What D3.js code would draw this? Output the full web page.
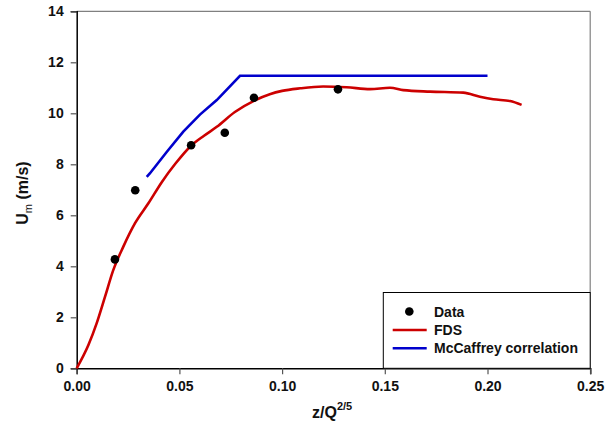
<!DOCTYPE html>
<html><head><meta charset="utf-8">
<script src="https://cdn.jsdelivr.net/npm/d3@7"></script>
<style>body{margin:0;background:#fff}svg{display:block;font-family:"Liberation Sans",Arial,sans-serif}</style>
</head><body>
<svg id="c" width="614" height="442"></svg>
<script>
const xTicks = [0, 0.05, 0.10, 0.15, 0.20, 0.25];
const yTicks = [0, 2, 4, 6, 8, 10, 12, 14];
const dataX = [0.0186, 0.0285, 0.0557, 0.0721, 0.0863, 0.1272];
const dataY = [4.27, 6.98, 8.75, 9.24, 10.61, 10.94];
const fdsX = [0, 0.0057, 0.0097, 0.0138, 0.0178, 0.0227, 0.0284, 0.0349, 0.0414, 0.0480, 0.0557, 0.0620, 0.0682, 0.0770, 0.0865, 0.0940, 0.1000, 0.1088, 0.1200, 0.1314, 0.1428, 0.1525, 0.1590, 0.1720, 0.1882, 0.1963, 0.2028, 0.2110, 0.2166];
const fdsY = [0, 0.91, 1.76, 2.81, 3.85, 4.77, 5.69, 6.47, 7.30, 8.02, 8.73, 9.12, 9.47, 10.05, 10.50, 10.75, 10.88, 10.98, 11.05, 11.02, 10.95, 11.00, 10.91, 10.85, 10.81, 10.65, 10.55, 10.48, 10.33];
const mcX = [0.0341, 0.0357, 0.0440, 0.0519, 0.0600, 0.0682, 0.0795, 0.2000];
const mcY = [7.51, 7.65, 8.50, 9.28, 9.95, 10.52, 11.47, 11.47];
const legendLabels = ["Data", "FDS", "McCaffrey correlation"];

const svg = d3.select("#c");
const L = 76.7, R = 590.2, T = 11.3, B = 368.3;
const x = d3.scaleLinear().domain([0, 0.25]).range([L, R]);
const y = d3.scaleLinear().domain([0, 14]).range([B, T]);

// frame top/right
svg.append("line").attr("x1", L).attr("x2", R).attr("y1", T).attr("y2", T).attr("stroke", "#808080").attr("stroke-width", 1.2);
svg.append("line").attr("x1", R).attr("x2", R).attr("y1", T).attr("y2", B).attr("stroke", "#808080").attr("stroke-width", 1.2);

const xAxis = svg.append("g").attr("transform", `translate(0,${B})`)
  .call(d3.axisBottom(x).tickValues(xTicks).tickFormat(d3.format(".2f")).tickSizeOuter(0).tickSize(6).tickPadding(7));
const yAxis = svg.append("g").attr("transform", `translate(${L},0)`)
  .call(d3.axisLeft(y).tickValues(yTicks).tickFormat(d3.format("d")).tickSizeOuter(0).tickSize(6).tickPadding(7));
[xAxis, yAxis].forEach(g => {
  g.select(".domain").attr("stroke", "#000").attr("stroke-width", 1.5);
  g.selectAll(".tick line").attr("stroke", "#555").attr("stroke-width", 1.2);
  g.selectAll("text").attr("font-size", 14).attr("font-weight", "bold").attr("fill", "#111")
    .attr("font-family", "Liberation Sans, Arial, sans-serif");
});

const line = d3.line().x(d => x(d[0])).y(d => y(d[1])).curve(d3.curveMonotoneX);
svg.append("path").datum(fdsX.map((v, i) => [v, fdsY[i]])).attr("d", line)
  .attr("fill", "none").attr("stroke", "#cc0000").attr("stroke-width", 2.6);
svg.append("path").datum(mcX.map((v, i) => [v, mcY[i]])).attr("d", d3.line().x(d => x(d[0])).y(d => y(d[1])))
  .attr("fill", "none").attr("stroke", "#0000cc").attr("stroke-width", 2.6);
svg.append("g").selectAll("circle").data(dataX.map((v, i) => [v, dataY[i]])).join("circle")
  .attr("cx", d => x(d[0])).attr("cy", d => y(d[1])).attr("r", 4.3).attr("fill", "#000");

// axis labels
const xl = svg.append("text").attr("x", 312).attr("y", 418).attr("font-size", 16).attr("font-weight", "bold").attr("fill", "#111");
xl.append("tspan").text("z/Q");
xl.append("tspan").attr("dy", -8).attr("font-size", 11).text("2/5");
const yl = svg.append("text").attr("transform", "translate(28,193) rotate(-90)").attr("text-anchor", "middle")
  .attr("font-size", 16).attr("font-weight", "bold").attr("fill", "#111");
yl.append("tspan").text("U");
yl.append("tspan").attr("dy", 4).attr("font-size", 11).attr("font-weight", "normal").text("m");
yl.append("tspan").attr("dy", -4).text(" (m/s)");

// legend
const lg = svg.append("g");
lg.append("rect").attr("x", 383.3).attr("y", 292.5).attr("width", R - 383.3).attr("height", B - 292.5)
  .attr("fill", "#fff").attr("stroke", "#000").attr("stroke-width", 1);
const ly = [311.5, 330, 348.3];
lg.append("circle").attr("cx", 409.3).attr("cy", ly[0]).attr("r", 4.3).attr("fill", "#000");
lg.append("line").attr("x1", 392.7).attr("x2", 426.7).attr("y1", ly[1]).attr("y2", ly[1]).attr("stroke", "#cc0000").attr("stroke-width", 2.6);
lg.append("line").attr("x1", 392.7).attr("x2", 426.7).attr("y1", ly[2]).attr("y2", ly[2]).attr("stroke", "#0000cc").attr("stroke-width", 2.6);
lg.selectAll("text.leg").data(legendLabels).join("text").attr("class", "leg")
  .attr("x", 434).attr("y", (d, i) => ly[i] + 5).attr("font-size", 14).attr("font-weight", "bold").attr("fill", "#111").text(d => d);
</script>
</body></html>
